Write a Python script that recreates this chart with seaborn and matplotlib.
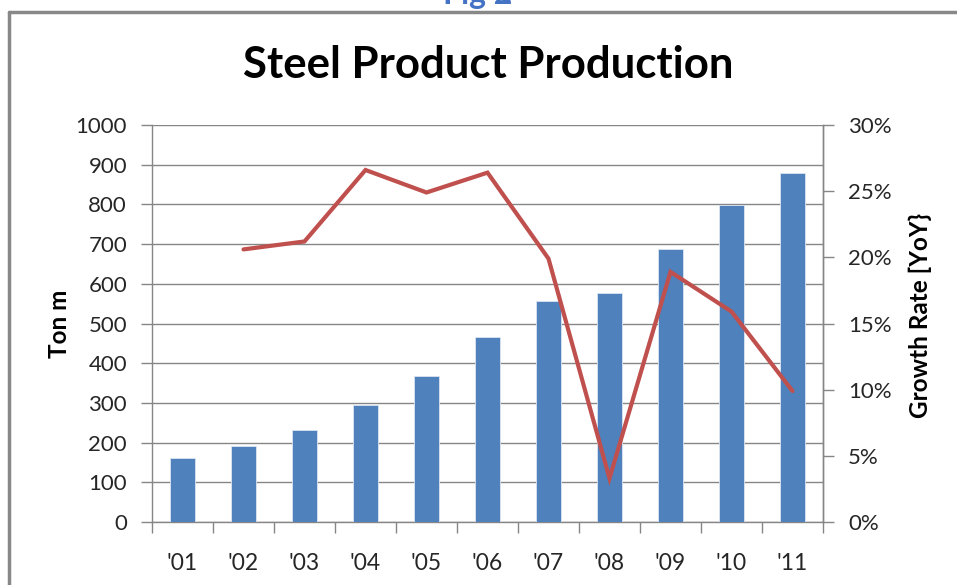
import numpy as np
import pandas as pd
import matplotlib
matplotlib.use("Agg")
import matplotlib.pyplot as plt
from matplotlib.lines import Line2D
from matplotlib.ticker import MultipleLocator, FixedLocator, PercentFormatter, NullFormatter
import seaborn as sns

# Data
years = ["'01", "'02", "'03", "'04", "'05", "'06", "'07", "'08", "'09", "'10", "'11"]
production = [160, 191, 232, 294, 368, 465, 557, 578, 688, 798, 878]
growth = [np.nan, 20.6, 21.2, 26.6, 24.9, 26.4, 19.9, 3.3, 18.9, 15.9, 9.9]

df = pd.DataFrame({"pos": np.arange(len(years)), "year": years,
                   "production": production, "growth": growth})

sns.set_theme(style="white")
plt.rcParams["font.family"] = ["Lato", "DejaVu Sans"]

BAR = "#4F81BD"
LINE = "#C0504D"
GRID = "#868686"
TEXT = "#262626"
TICK_FS = 16
LABEL_FS = 17.5

fig = plt.figure(figsize=(9.57, 5.85), dpi=100)
ax = fig.add_axes([152 / 957, 1 - 522 / 585, (823 - 152) / 957, (522 - 125) / 585])

sns.barplot(data=df, x="pos", y="production", color=BAR, width=0.4,
            saturation=1, ax=ax, zorder=3, edgecolor="#dbe5f1", linewidth=0.6)
ax.set_xlim(-0.5, len(years) - 0.5)
ax.set_ylim(0, 1000)
ax.yaxis.set_major_locator(MultipleLocator(100))
ax.grid(axis="y", color=GRID, linewidth=1.0, zorder=0)
ax.set_axisbelow(True)

# category boundaries carry the tick marks, labels sit at centres
ax.xaxis.set_major_locator(FixedLocator(np.arange(-0.5, len(years), 1.0)))
ax.xaxis.set_major_formatter(NullFormatter())
ax.xaxis.set_minor_locator(FixedLocator(np.arange(len(years))))
ax.set_xticklabels(years, minor=True)
ax.tick_params(axis="x", which="major", length=8, width=1, color=GRID, direction="out", bottom=True)
ax.tick_params(axis="x", which="minor", length=0, pad=22, labelsize=16.5, labelcolor=TEXT)
ax.tick_params(axis="y", length=8, width=1, color=GRID, direction="out", left=True,
               labelsize=TICK_FS, labelcolor=TEXT, pad=10)
ax.set_xlabel("")
ax.set_ylabel("Ton m", fontsize=LABEL_FS, fontweight="bold", color="black")
ax.yaxis.set_label_coords(-0.121, 0.5)

ax.spines["top"].set_visible(False)
for side in ["left", "bottom", "right"]:
    ax.spines[side].set_color(GRID)
    ax.spines[side].set_linewidth(1.0)

ax2 = ax.twinx()
sns.lineplot(data=df, x="pos", y="growth", color=LINE, linewidth=3.0, ax=ax2,
             zorder=4, solid_joinstyle="miter")
ax2.set_ylim(0, 30)
ax2.yaxis.set_major_locator(MultipleLocator(5))
ax2.yaxis.set_major_formatter(PercentFormatter(decimals=0))
ax2.tick_params(axis="y", length=8, width=1, color=GRID, direction="out", right=True,
                labelsize=TICK_FS, labelcolor=TEXT, pad=10)
ax2.set_ylabel("Growth Rate [YoY}", fontsize=LABEL_FS, fontweight="bold", color="black")
ax2.yaxis.set_label_coords(1.127, 0.52)
ax2.grid(False)
for side in ["top", "left", "bottom"]:
    ax2.spines[side].set_visible(False)
ax2.spines["right"].set_color(GRID)
ax2.spines["right"].set_linewidth(1.0)
ax2.set_xlim(-0.5, len(years) - 0.5)

fig.text(488 / 957, 1 - 65 / 585, "Steel Product Production", ha="center", va="center",
         fontsize=31.5, fontweight="bold", color="black")

# caption above the frame, mostly cut off by the figure edge
fig.text(478 / 957, 1 - 4 / 585, "Fig 2", ha="center", va="baseline",
         fontsize=23, fontweight="bold", color="#4472C4")

# frame around the chart
fig.add_artist(Line2D([9 / 957, 9 / 957], [0, 1 - 12 / 585], transform=fig.transFigure,
                      color="#888888", linewidth=2.5))
fig.add_artist(Line2D([9 / 957, 1], [1 - 12 / 585, 1 - 12 / 585], transform=fig.transFigure,
                      color="#888888", linewidth=2.5))

fig.savefig("out.png", dpi=100)
